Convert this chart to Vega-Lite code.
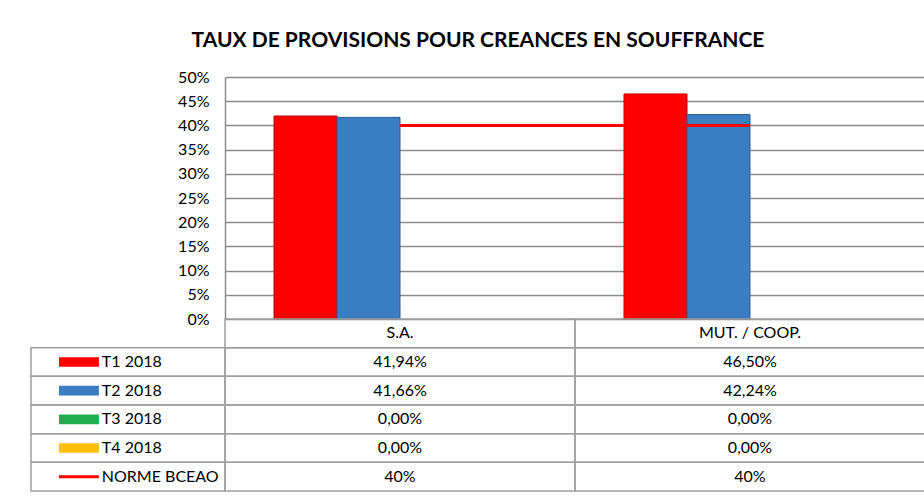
{
  "$schema": "https://vega.github.io/schema/vega-lite/v6.json",
  "padding": {"left": 30, "top": 30, "right": 0, "bottom": 4},
  "background": "white",
  "title": {"text": "TAUX DE PROVISIONS POUR CREANCES EN SOUFFRANCE", "font": "Lato", "fontSize": 21, "fontWeight": "bold", "color": "#000000", "anchor": "middle", "offset": 18},
  "datasets": {
    "vals": [
      {"category": "S.A.", "series": "T1 2018", "value": 0.4194},
      {"category": "S.A.", "series": "T2 2018", "value": 0.4166},
      {"category": "S.A.", "series": "T3 2018", "value": 0},
      {"category": "S.A.", "series": "T4 2018", "value": 0},
      {"category": "S.A.", "series": "NORME BCEAO", "value": 0.40},
      {"category": "MUT. / COOP.", "series": "T1 2018", "value": 0.4650},
      {"category": "MUT. / COOP.", "series": "T2 2018", "value": 0.4224},
      {"category": "MUT. / COOP.", "series": "T3 2018", "value": 0},
      {"category": "MUT. / COOP.", "series": "T4 2018", "value": 0},
      {"category": "MUT. / COOP.", "series": "NORME BCEAO", "value": 0.40}
    ]
  },
  "data": {"name": "vals"},
  "columns": 2,
  "spacing": 0,
  "bounds": "flush",
  "align": "each",
  "concat": [
    {
      "width": 194, "height": 242,
      "data": {"values": [{}]},
      "mark": {"type": "text"},
      "encoding": {"text": {"value": ""}}
    },
    {
      "width": 700, "height": 242,
      "encoding": {
        "x": {"field": "category", "type": "nominal", "sort": ["S.A.", "MUT. / COOP."], "scale": {"type": "band", "domain": ["S.A.", "MUT. / COOP."], "paddingInner": 0.28, "paddingOuter": 0.14}, "axis": null},
        "y": {"field": "value", "type": "quantitative", "scale": {"domain": [0, 0.5], "nice": false, "zero": true},
          "axis": {"values": [0, 0.05, 0.1, 0.15, 0.2, 0.25, 0.3, 0.35, 0.4, 0.45, 0.5], "tickCount": 11, "format": ".0%", "title": null, "grid": true, "gridColor": "#8c8c8c", "gridWidth": 1.5, "domain": true, "domainColor": "#8c8c8c", "domainWidth": 1.5, "ticks": false, "labelOverlap": false, "labelPadding": 16, "labelFont": "Lato", "labelFontSize": 16, "labelColor": "#000000"}}
      },
      "layer": [
        {
          "transform": [{"filter": "datum.series != 'NORME BCEAO' && datum.value > 0"}],
          "mark": {"type": "bar", "strokeWidth": 1},
          "encoding": {
            "xOffset": {"field": "series", "type": "nominal", "scale": {"domain": ["T1 2018", "T2 2018", "T3 2018", "T4 2018"], "paddingInner": 0, "paddingOuter": 0}},
            "color": {"field": "series", "type": "nominal", "scale": {"domain": ["T1 2018", "T2 2018", "T3 2018", "T4 2018"], "range": ["#FF0000", "#3A7DC2", "#1FAF50", "#FFC000"]}, "legend": null},
            "stroke": {"field": "series", "type": "nominal", "scale": {"domain": ["T1 2018", "T2 2018", "T3 2018", "T4 2018"], "range": ["#C00000", "#2A5E96", "#178A3E", "#C99700"]}, "legend": null}
          }
        },
        {
          "transform": [{"filter": "datum.series == 'NORME BCEAO'"}],
          "mark": {"type": "line", "color": "#FF0000", "strokeWidth": 3},
          "encoding": {}
        }
      ]
    },
    {
      "width": 194, "height": 172,
      "transform": [{"filter": "datum.category == 'S.A.'"}],
      "layer": [
        {
          "mark": {"type": "rect", "fill": "transparent", "stroke": "#a0a0a0", "strokeWidth": 1.5},
          "encoding": {
            "x": {"datum": 0, "type": "quantitative", "scale": {"domain": [0, 1], "nice": false}, "axis": null},
            "x2": {"datum": 1},
            "y": {"field": "series", "type": "nominal", "scale": {"type": "band", "domain": ["header", "T1 2018", "T2 2018", "T3 2018", "T4 2018", "NORME BCEAO"], "paddingInner": 0, "paddingOuter": 0}, "axis": null}
          }
        },
        {
          "transform": [{"filter": "datum.series != 'NORME BCEAO'"}],
          "mark": {"type": "bar", "height": {"band": 0.34}, "strokeWidth": 1},
          "encoding": {
            "x": {"datum": 0.144, "type": "quantitative"},
            "x2": {"datum": 0.35},
            "y": {"field": "series", "type": "nominal"},
            "color": {"field": "series", "type": "nominal", "scale": {"domain": ["T1 2018", "T2 2018", "T3 2018", "T4 2018"], "range": ["#FF0000", "#3A7DC2", "#1FAF50", "#FFC000"]}, "legend": null}
          }
        },
        {
          "transform": [{"filter": "datum.series == 'NORME BCEAO'"}],
          "mark": {"type": "bar", "height": 3, "color": "#FF0000"},
          "encoding": {
            "x": {"datum": 0.144, "type": "quantitative"},
            "x2": {"datum": 0.35},
            "y": {"field": "series", "type": "nominal"}
          }
        },
        {
          "mark": {"type": "text", "align": "left", "baseline": "middle", "font": "Lato", "fontSize": 16, "color": "#000000"},
          "encoding": {
            "x": {"datum": 0.365, "type": "quantitative"},
            "y": {"field": "series", "type": "nominal"},
            "text": {"field": "series"}
          }
        }
      ]
    },
    {
      "width": 700, "height": 172,
      "layer": [
        {
          "mark": {"type": "rect", "fill": "transparent", "stroke": "#a0a0a0", "strokeWidth": 1.5},
          "encoding": {
            "x": {"field": "category", "type": "nominal", "scale": {"type": "band", "domain": ["S.A.", "MUT. / COOP."], "paddingInner": 0, "paddingOuter": 0}, "axis": null},
            "y": {"field": "series", "type": "nominal", "scale": {"type": "band", "domain": ["header", "T1 2018", "T2 2018", "T3 2018", "T4 2018", "NORME BCEAO"], "paddingInner": 0, "paddingOuter": 0}, "axis": null}
          }
        },
        {
          "transform": [{"filter": "datum.series == 'T1 2018'"}],
          "mark": {"type": "rect", "fill": "transparent", "stroke": "#a0a0a0", "strokeWidth": 1.5},
          "encoding": {
            "x": {"field": "category", "type": "nominal"},
            "y": {"datum": "header", "type": "nominal"}
          }
        },
        {
          "transform": [{"filter": "datum.series == 'T1 2018'"}],
          "mark": {"type": "text", "align": "center", "baseline": "middle", "font": "Lato", "fontSize": 16, "color": "#000000"},
          "encoding": {
            "x": {"field": "category", "type": "nominal"},
            "y": {"datum": "header", "type": "nominal"},
            "text": {"field": "category"}
          }
        },
        {
          "transform": [{"filter": "datum.series != 'NORME BCEAO'"}],
          "mark": {"type": "text", "align": "center", "baseline": "middle", "font": "Lato", "fontSize": 16, "color": "#000000"},
          "encoding": {
            "x": {"field": "category", "type": "nominal"},
            "y": {"field": "series", "type": "nominal"},
            "text": {"field": "value", "type": "quantitative", "format": ".2%"}
          }
        },
        {
          "transform": [{"filter": "datum.series == 'NORME BCEAO'"}],
          "mark": {"type": "text", "align": "center", "baseline": "middle", "font": "Lato", "fontSize": 16, "color": "#000000"},
          "encoding": {
            "x": {"field": "category", "type": "nominal"},
            "y": {"field": "series", "type": "nominal"},
            "text": {"field": "value", "type": "quantitative", "format": ".0%"}
          }
        }
      ]
    }
  ],
  "config": {
    "locale": {"number": {"decimal": ",", "thousands": " ", "grouping": [3], "currency": ["", " €"]}},
    "view": {"stroke": null},
    "font": "Lato"
  }
}
